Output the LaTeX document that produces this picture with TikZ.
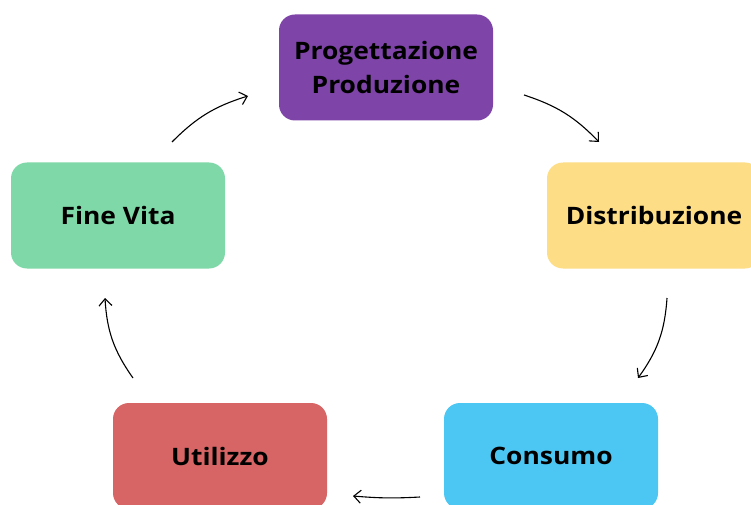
\documentclass[tikz,border=0pt]{standalone}
\usepackage{fontspec}
\setmainfont{Open Sans}[FakeStretch=1.1]
\usetikzlibrary{arrows.meta}
\definecolor{viola}{RGB}{126,68,168}
\definecolor{giallo}{RGB}{253,222,135}
\definecolor{azzurro}{RGB}{76,199,243}
\definecolor{rosso}{RGB}{216,101,101}
\definecolor{verde}{RGB}{127,216,168}
\tikzset{>={Straight Barb[length=7pt,width=13pt]},every node/.style={font=\fontsize{24}{34}\selectfont\bfseries},fase/.style={rounded corners=16pt,minimum width=214pt,minimum height=106pt,align=center,inner sep=0pt},ciclo/.style={line width=1.1pt,->}}
\begin{document}
\begin{tikzpicture}[x=1pt,y=1pt]
\clip (0,0) rectangle (751,504);\fill[white] (0,0) rectangle (751,504);
\node[fase,fill=viola] (prog) at (386,436.5){Progettazione\\Produzione};
\node[fase,fill=giallo] (dist) at (654,288.5){Distribuzione};
\node[fase,fill=azzurro] (cons) at (551,48){Consumo};
\node[fase,fill=rosso] (util) at (220,48){Utilizzo};
\node[fase,fill=verde] (fine) at (118,288.5){Fine Vita};
% frecce del ciclo
\coordinate (a1) at (172,362);\coordinate (b1) at (248,408);\draw[ciclo] (a1) to[bend left=14] (b1);
\coordinate (a2) at (524,409);\coordinate (b2) at (599,362);\draw[ciclo] (a2) to[bend left=14] (b2);
\coordinate (a3) at (667,206);\coordinate (b3) at (638,126);\draw[ciclo] (a3) to[bend left=16] (b3);
\coordinate (a4) at (420,7);\coordinate (b4) at (353,8);\draw[ciclo] (a4) to[bend left=4] (b4);
\coordinate (a5) at (133,126);\coordinate (b5) at (105,206);\draw[ciclo] (a5) to[bend left=16] (b5);
\end{tikzpicture}
\end{document}
